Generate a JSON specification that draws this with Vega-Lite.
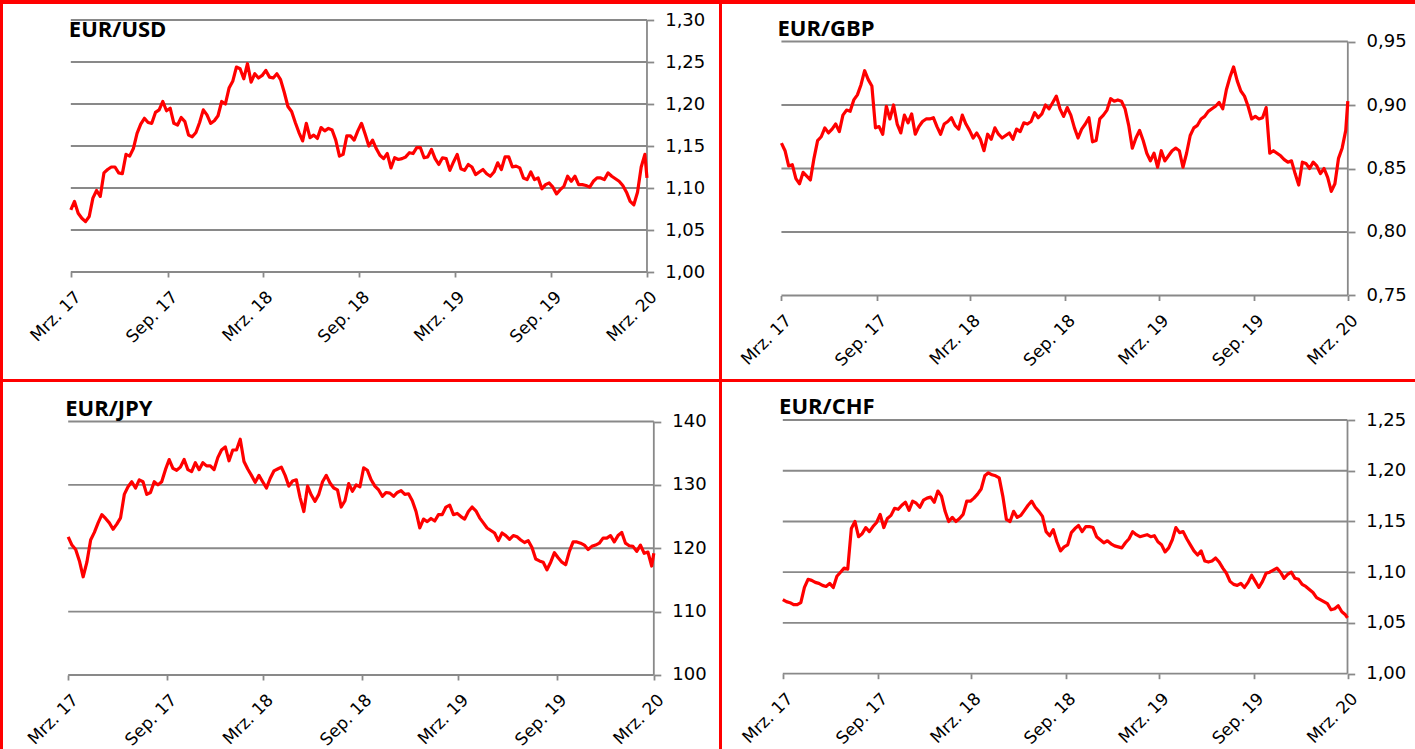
{
"$schema": "https://vega.github.io/schema/vega-lite/v6.json",
"background": "#ff0000",
"padding": {"left": 3, "top": 4, "right": 0, "bottom": 0},
"config": {"view": {"fill": "white", "stroke": null}, "axis": {"labelFont": "DejaVu Sans", "labelColor": "#000000"}},
"datasets": {"fx": [
{"d":"2017-03-13","usd":1.074,"gbp":0.870,"jpy":121.8,"chf":1.073},
{"d":"2017-03-20","usd":1.084,"gbp":0.864,"jpy":120.5,"chf":1.071},
{"d":"2017-03-27","usd":1.070,"gbp":0.852,"jpy":119.8,"chf":1.070},
{"d":"2017-04-03","usd":1.064,"gbp":0.853,"jpy":118.0,"chf":1.068},
{"d":"2017-04-10","usd":1.060,"gbp":0.842,"jpy":115.5,"chf":1.068},
{"d":"2017-04-17","usd":1.066,"gbp":0.838,"jpy":117.8,"chf":1.070},
{"d":"2017-04-24","usd":1.088,"gbp":0.847,"jpy":121.3,"chf":1.085},
{"d":"2017-05-01","usd":1.097,"gbp":0.844,"jpy":122.5,"chf":1.093},
{"d":"2017-05-08","usd":1.090,"gbp":0.841,"jpy":124.0,"chf":1.092},
{"d":"2017-05-15","usd":1.118,"gbp":0.858,"jpy":125.3,"chf":1.090},
{"d":"2017-05-22","usd":1.122,"gbp":0.872,"jpy":124.7,"chf":1.089},
{"d":"2017-05-29","usd":1.125,"gbp":0.875,"jpy":124.0,"chf":1.087},
{"d":"2017-06-05","usd":1.125,"gbp":0.882,"jpy":123.0,"chf":1.086},
{"d":"2017-06-12","usd":1.118,"gbp":0.878,"jpy":123.8,"chf":1.089},
{"d":"2017-06-19","usd":1.117,"gbp":0.881,"jpy":124.8,"chf":1.085},
{"d":"2017-06-26","usd":1.140,"gbp":0.885,"jpy":128.5,"chf":1.096},
{"d":"2017-07-03","usd":1.138,"gbp":0.879,"jpy":129.7,"chf":1.100},
{"d":"2017-07-10","usd":1.147,"gbp":0.892,"jpy":130.5,"chf":1.104},
{"d":"2017-07-17","usd":1.165,"gbp":0.896,"jpy":129.5,"chf":1.103},
{"d":"2017-07-24","usd":1.176,"gbp":0.895,"jpy":130.8,"chf":1.143},
{"d":"2017-07-31","usd":1.183,"gbp":0.904,"jpy":130.5,"chf":1.150},
{"d":"2017-08-07","usd":1.178,"gbp":0.908,"jpy":128.5,"chf":1.135},
{"d":"2017-08-14","usd":1.177,"gbp":0.916,"jpy":128.8,"chf":1.138},
{"d":"2017-08-21","usd":1.190,"gbp":0.927,"jpy":130.5,"chf":1.144},
{"d":"2017-08-28","usd":1.193,"gbp":0.920,"jpy":130.0,"chf":1.140},
{"d":"2017-09-04","usd":1.203,"gbp":0.915,"jpy":130.5,"chf":1.145},
{"d":"2017-09-11","usd":1.192,"gbp":0.882,"jpy":132.4,"chf":1.149},
{"d":"2017-09-18","usd":1.195,"gbp":0.883,"jpy":134.0,"chf":1.157},
{"d":"2017-09-25","usd":1.177,"gbp":0.877,"jpy":132.6,"chf":1.144},
{"d":"2017-10-02","usd":1.175,"gbp":0.899,"jpy":132.3,"chf":1.153},
{"d":"2017-10-09","usd":1.184,"gbp":0.889,"jpy":132.8,"chf":1.156},
{"d":"2017-10-16","usd":1.179,"gbp":0.900,"jpy":134.0,"chf":1.163},
{"d":"2017-10-23","usd":1.163,"gbp":0.885,"jpy":132.4,"chf":1.162},
{"d":"2017-10-30","usd":1.161,"gbp":0.878,"jpy":132.1,"chf":1.166},
{"d":"2017-11-06","usd":1.166,"gbp":0.892,"jpy":133.5,"chf":1.169},
{"d":"2017-11-13","usd":1.178,"gbp":0.886,"jpy":132.4,"chf":1.161},
{"d":"2017-11-20","usd":1.193,"gbp":0.893,"jpy":133.5,"chf":1.170},
{"d":"2017-11-27","usd":1.187,"gbp":0.877,"jpy":133.0,"chf":1.168},
{"d":"2017-12-04","usd":1.177,"gbp":0.883,"jpy":133.0,"chf":1.164},
{"d":"2017-12-11","usd":1.180,"gbp":0.887,"jpy":132.4,"chf":1.171},
{"d":"2017-12-18","usd":1.186,"gbp":0.889,"jpy":134.3,"chf":1.173},
{"d":"2017-12-25","usd":1.203,"gbp":0.889,"jpy":135.5,"chf":1.174},
{"d":"2018-01-01","usd":1.200,"gbp":0.890,"jpy":136.0,"chf":1.169},
{"d":"2018-01-08","usd":1.219,"gbp":0.883,"jpy":133.8,"chf":1.180},
{"d":"2018-01-15","usd":1.227,"gbp":0.877,"jpy":135.5,"chf":1.175},
{"d":"2018-01-22","usd":1.244,"gbp":0.885,"jpy":135.5,"chf":1.160},
{"d":"2018-01-29","usd":1.242,"gbp":0.887,"jpy":137.2,"chf":1.150},
{"d":"2018-02-05","usd":1.230,"gbp":0.890,"jpy":133.7,"chf":1.154},
{"d":"2018-02-12","usd":1.248,"gbp":0.884,"jpy":132.5,"chf":1.150},
{"d":"2018-02-19","usd":1.226,"gbp":0.881,"jpy":131.5,"chf":1.153},
{"d":"2018-02-26","usd":1.236,"gbp":0.892,"jpy":130.4,"chf":1.157},
{"d":"2018-03-05","usd":1.231,"gbp":0.885,"jpy":131.5,"chf":1.170},
{"d":"2018-03-12","usd":1.234,"gbp":0.880,"jpy":130.5,"chf":1.170},
{"d":"2018-03-19","usd":1.240,"gbp":0.874,"jpy":129.5,"chf":1.173},
{"d":"2018-03-26","usd":1.232,"gbp":0.878,"jpy":131.0,"chf":1.177},
{"d":"2018-04-02","usd":1.231,"gbp":0.873,"jpy":132.2,"chf":1.182},
{"d":"2018-04-09","usd":1.236,"gbp":0.864,"jpy":132.5,"chf":1.195},
{"d":"2018-04-16","usd":1.229,"gbp":0.877,"jpy":132.8,"chf":1.198},
{"d":"2018-04-23","usd":1.214,"gbp":0.873,"jpy":131.5,"chf":1.196},
{"d":"2018-04-30","usd":1.197,"gbp":0.882,"jpy":129.8,"chf":1.195},
{"d":"2018-05-07","usd":1.191,"gbp":0.877,"jpy":130.6,"chf":1.193},
{"d":"2018-05-14","usd":1.178,"gbp":0.874,"jpy":130.8,"chf":1.175},
{"d":"2018-05-21","usd":1.166,"gbp":0.876,"jpy":128.0,"chf":1.152},
{"d":"2018-05-28","usd":1.156,"gbp":0.878,"jpy":125.8,"chf":1.150},
{"d":"2018-06-04","usd":1.177,"gbp":0.873,"jpy":129.8,"chf":1.160},
{"d":"2018-06-11","usd":1.160,"gbp":0.881,"jpy":128.4,"chf":1.154},
{"d":"2018-06-18","usd":1.163,"gbp":0.879,"jpy":127.4,"chf":1.156},
{"d":"2018-06-25","usd":1.159,"gbp":0.886,"jpy":128.5,"chf":1.161},
{"d":"2018-07-02","usd":1.172,"gbp":0.885,"jpy":130.5,"chf":1.166},
{"d":"2018-07-09","usd":1.168,"gbp":0.887,"jpy":131.5,"chf":1.170},
{"d":"2018-07-16","usd":1.171,"gbp":0.894,"jpy":130.3,"chf":1.164},
{"d":"2018-07-23","usd":1.169,"gbp":0.890,"jpy":129.5,"chf":1.160},
{"d":"2018-07-30","usd":1.157,"gbp":0.893,"jpy":129.2,"chf":1.155},
{"d":"2018-08-06","usd":1.138,"gbp":0.900,"jpy":126.5,"chf":1.140},
{"d":"2018-08-13","usd":1.140,"gbp":0.897,"jpy":127.5,"chf":1.136},
{"d":"2018-08-20","usd":1.162,"gbp":0.902,"jpy":130.2,"chf":1.142},
{"d":"2018-08-27","usd":1.162,"gbp":0.907,"jpy":129.0,"chf":1.130},
{"d":"2018-09-03","usd":1.157,"gbp":0.897,"jpy":130.0,"chf":1.121},
{"d":"2018-09-10","usd":1.168,"gbp":0.891,"jpy":129.7,"chf":1.125},
{"d":"2018-09-17","usd":1.177,"gbp":0.898,"jpy":132.7,"chf":1.127},
{"d":"2018-09-24","usd":1.164,"gbp":0.892,"jpy":132.3,"chf":1.139},
{"d":"2018-10-01","usd":1.150,"gbp":0.882,"jpy":130.8,"chf":1.143},
{"d":"2018-10-08","usd":1.157,"gbp":0.874,"jpy":129.8,"chf":1.146},
{"d":"2018-10-15","usd":1.147,"gbp":0.881,"jpy":129.2,"chf":1.140},
{"d":"2018-10-22","usd":1.139,"gbp":0.885,"jpy":128.2,"chf":1.145},
{"d":"2018-10-29","usd":1.135,"gbp":0.890,"jpy":128.8,"chf":1.145},
{"d":"2018-11-05","usd":1.141,"gbp":0.871,"jpy":128.7,"chf":1.144},
{"d":"2018-11-12","usd":1.124,"gbp":0.872,"jpy":128.2,"chf":1.135},
{"d":"2018-11-19","usd":1.136,"gbp":0.889,"jpy":128.8,"chf":1.132},
{"d":"2018-11-26","usd":1.134,"gbp":0.892,"jpy":129.1,"chf":1.129},
{"d":"2018-12-03","usd":1.135,"gbp":0.896,"jpy":128.5,"chf":1.131},
{"d":"2018-12-10","usd":1.137,"gbp":0.905,"jpy":128.6,"chf":1.128},
{"d":"2018-12-17","usd":1.142,"gbp":0.903,"jpy":127.5,"chf":1.126},
{"d":"2018-12-24","usd":1.141,"gbp":0.904,"jpy":125.8,"chf":1.125},
{"d":"2018-12-31","usd":1.148,"gbp":0.903,"jpy":123.2,"chf":1.124},
{"d":"2019-01-07","usd":1.148,"gbp":0.897,"jpy":124.6,"chf":1.129},
{"d":"2019-01-14","usd":1.136,"gbp":0.884,"jpy":124.2,"chf":1.133},
{"d":"2019-01-21","usd":1.137,"gbp":0.866,"jpy":124.7,"chf":1.140},
{"d":"2019-01-28","usd":1.146,"gbp":0.874,"jpy":124.3,"chf":1.137},
{"d":"2019-02-04","usd":1.135,"gbp":0.880,"jpy":125.3,"chf":1.135},
{"d":"2019-02-11","usd":1.128,"gbp":0.872,"jpy":125.3,"chf":1.136},
{"d":"2019-02-18","usd":1.136,"gbp":0.862,"jpy":126.5,"chf":1.137},
{"d":"2019-02-25","usd":1.135,"gbp":0.856,"jpy":126.8,"chf":1.135},
{"d":"2019-03-04","usd":1.121,"gbp":0.862,"jpy":125.3,"chf":1.136},
{"d":"2019-03-11","usd":1.131,"gbp":0.851,"jpy":125.5,"chf":1.130},
{"d":"2019-03-18","usd":1.140,"gbp":0.864,"jpy":125.0,"chf":1.127},
{"d":"2019-03-25","usd":1.123,"gbp":0.856,"jpy":124.6,"chf":1.120},
{"d":"2019-04-01","usd":1.121,"gbp":0.860,"jpy":125.8,"chf":1.124},
{"d":"2019-04-08","usd":1.128,"gbp":0.864,"jpy":126.5,"chf":1.132},
{"d":"2019-04-15","usd":1.125,"gbp":0.866,"jpy":125.9,"chf":1.144},
{"d":"2019-04-22","usd":1.116,"gbp":0.864,"jpy":124.8,"chf":1.139},
{"d":"2019-04-29","usd":1.119,"gbp":0.851,"jpy":124.0,"chf":1.140},
{"d":"2019-05-06","usd":1.122,"gbp":0.862,"jpy":123.2,"chf":1.133},
{"d":"2019-05-13","usd":1.117,"gbp":0.876,"jpy":122.8,"chf":1.127},
{"d":"2019-05-20","usd":1.114,"gbp":0.882,"jpy":122.4,"chf":1.121},
{"d":"2019-05-27","usd":1.119,"gbp":0.884,"jpy":121.2,"chf":1.117},
{"d":"2019-06-03","usd":1.130,"gbp":0.889,"jpy":122.4,"chf":1.121},
{"d":"2019-06-10","usd":1.122,"gbp":0.891,"jpy":122.0,"chf":1.111},
{"d":"2019-06-17","usd":1.137,"gbp":0.895,"jpy":121.4,"chf":1.110},
{"d":"2019-06-24","usd":1.137,"gbp":0.897,"jpy":122.0,"chf":1.111},
{"d":"2019-07-01","usd":1.125,"gbp":0.899,"jpy":121.8,"chf":1.114},
{"d":"2019-07-08","usd":1.126,"gbp":0.902,"jpy":121.3,"chf":1.110},
{"d":"2019-07-15","usd":1.124,"gbp":0.897,"jpy":120.9,"chf":1.104},
{"d":"2019-07-22","usd":1.112,"gbp":0.912,"jpy":121.2,"chf":1.099},
{"d":"2019-07-29","usd":1.110,"gbp":0.922,"jpy":120.1,"chf":1.091},
{"d":"2019-08-05","usd":1.119,"gbp":0.930,"jpy":118.3,"chf":1.088},
{"d":"2019-08-12","usd":1.110,"gbp":0.919,"jpy":118.0,"chf":1.087},
{"d":"2019-08-19","usd":1.112,"gbp":0.911,"jpy":117.8,"chf":1.089},
{"d":"2019-08-26","usd":1.099,"gbp":0.907,"jpy":116.6,"chf":1.085},
{"d":"2019-09-02","usd":1.104,"gbp":0.899,"jpy":117.8,"chf":1.090},
{"d":"2019-09-09","usd":1.106,"gbp":0.889,"jpy":119.3,"chf":1.097},
{"d":"2019-09-16","usd":1.101,"gbp":0.891,"jpy":118.5,"chf":1.091},
{"d":"2019-09-23","usd":1.093,"gbp":0.889,"jpy":117.8,"chf":1.085},
{"d":"2019-09-30","usd":1.098,"gbp":0.890,"jpy":117.4,"chf":1.091},
{"d":"2019-10-07","usd":1.102,"gbp":0.898,"jpy":119.5,"chf":1.099},
{"d":"2019-10-14","usd":1.114,"gbp":0.862,"jpy":121.0,"chf":1.100},
{"d":"2019-10-21","usd":1.108,"gbp":0.864,"jpy":121.0,"chf":1.102},
{"d":"2019-10-28","usd":1.114,"gbp":0.862,"jpy":120.8,"chf":1.104},
{"d":"2019-11-04","usd":1.104,"gbp":0.860,"jpy":120.5,"chf":1.100},
{"d":"2019-11-11","usd":1.104,"gbp":0.857,"jpy":119.8,"chf":1.094},
{"d":"2019-11-18","usd":1.103,"gbp":0.855,"jpy":120.3,"chf":1.098},
{"d":"2019-11-25","usd":1.101,"gbp":0.856,"jpy":120.5,"chf":1.100},
{"d":"2019-12-02","usd":1.108,"gbp":0.846,"jpy":120.8,"chf":1.094},
{"d":"2019-12-09","usd":1.112,"gbp":0.837,"jpy":121.6,"chf":1.093},
{"d":"2019-12-16","usd":1.112,"gbp":0.855,"jpy":121.6,"chf":1.088},
{"d":"2019-12-23","usd":1.110,"gbp":0.854,"jpy":122.0,"chf":1.086},
{"d":"2019-12-30","usd":1.118,"gbp":0.850,"jpy":121.0,"chf":1.083},
{"d":"2020-01-06","usd":1.114,"gbp":0.855,"jpy":122.0,"chf":1.080},
{"d":"2020-01-13","usd":1.111,"gbp":0.852,"jpy":122.5,"chf":1.075},
{"d":"2020-01-20","usd":1.108,"gbp":0.846,"jpy":120.8,"chf":1.073},
{"d":"2020-01-27","usd":1.103,"gbp":0.850,"jpy":120.4,"chf":1.071},
{"d":"2020-02-03","usd":1.095,"gbp":0.843,"jpy":120.3,"chf":1.069},
{"d":"2020-02-10","usd":1.084,"gbp":0.832,"jpy":119.5,"chf":1.063},
{"d":"2020-02-17","usd":1.080,"gbp":0.838,"jpy":120.5,"chf":1.064},
{"d":"2020-02-24","usd":1.095,"gbp":0.858,"jpy":119.2,"chf":1.067},
{"d":"2020-03-02","usd":1.125,"gbp":0.866,"jpy":119.4,"chf":1.061},
{"d":"2020-03-09","usd":1.140,"gbp":0.880,"jpy":117.2,"chf":1.058},
{"d":"2020-03-13","usd":1.112,"gbp":0.903,"jpy":119.2,"chf":1.055}
]},
"vconcat": [
{"hconcat": [
{"width": 716, "height": 375, "data": {"name": "fx"},
 "layer": [
  {"data": {"values": [{"g":1.0},{"g":1.05},{"g":1.1},{"g":1.15},{"g":1.2},{"g":1.25},{"g":1.3}]},
   "mark": {"type":"rule","color":"#898989","strokeWidth":1.8},
   "encoding": {
    "y": {"field":"g","type":"quantitative","scale":{"domain":[0.87262,1.31905],"nice":false,"zero":false}},
    "x": {"datum":{"year":2017,"month":3,"date":13,"utc":true},"type":"temporal","scale":{"type":"utc","domain":[{"year":2016,"month":11,"date":4,"utc":true},{"year":2020,"month":7,"date":28,"utc":true}]}},
    "x2": {"datum":{"year":2020,"month":3,"date":13,"utc":true}}}},
  {"data": {"values": [{}]},
   "mark": {"type":"rule","color":"#898989","strokeWidth":1.8},
   "encoding": {
    "x": {"datum":{"year":2020,"month":3,"date":13,"utc":true},"type":"temporal","scale":{"type":"utc","domain":[{"year":2016,"month":11,"date":4,"utc":true},{"year":2020,"month":7,"date":28,"utc":true}]}},
    "y": {"datum":1.0,"type":"quantitative","scale":{"domain":[0.87262,1.31905],"nice":false,"zero":false}},
    "y2": {"datum":1.3}}},
  {"mark": {"type":"line","color":"#ff0000","strokeWidth":3.2,"strokeJoin":"round"},
   "encoding": {
    "x": {"field":"d","type":"temporal","scale":{"type":"utc","domain":[{"year":2016,"month":11,"date":4,"utc":true},{"year":2020,"month":7,"date":28,"utc":true}]},
     "axis":{"orient":"bottom","values":[{"year":2017,"month":3,"date":13,"utc":true},{"year":2017,"month":9,"date":13,"utc":true},{"year":2018,"month":3,"date":13,"utc":true},{"year":2018,"month":9,"date":13,"utc":true},{"year":2019,"month":3,"date":13,"utc":true},{"year":2019,"month":9,"date":13,"utc":true},{"year":2020,"month":3,"date":13,"utc":true}],
      "labelExpr":"(utcmonth(datum.value) == 2 ? 'Mrz. ' : 'Sep. ') + utcFormat(datum.value, '%y')",
      "labelAngle":-45,"labelAlign":"right","labelBaseline":"middle","labelFontSize":17,"labelPadding":17,"labelOffset":7,"labelOverlap":false,"labelBound":false,"labelFlush":false,
      "ticks":true,"tickSize":5,"tickColor":"#898989","tickWidth":1.8,"domain":false,"grid":false,"title":null,"offset":-107}},
    "y": {"field":"usd","type":"quantitative","scale":{"domain":[0.87262,1.31905],"nice":false,"zero":false},
     "axis":{"orient":"right","values":[1.0,1.05,1.1,1.15,1.2,1.25,1.3],"labelExpr":"replace(format(datum.value, '.2f'), '.', ',')",
      "labelFontSize":18,"labelPadding":11,"labelBaseline":"middle","labelOverlap":false,"labelBound":false,"labelFlush":false,
      "ticks":true,"tickSize":7,"tickColor":"#898989","tickWidth":1.8,"domain":false,"grid":false,"title":null,"offset":-72.3}}}},
  {"data": {"values": [{"t":"EUR/USD"}]},
   "mark": {"type":"text","font":"Open Sans","fontWeight":"bold","fontSize":22,"align":"left","baseline":"alphabetic","dx":-2,"dy":17.3,"color":"#000000"},
   "encoding": {
    "text": {"field":"t"},
    "x": {"datum":{"year":2017,"month":3,"date":13,"utc":true},"type":"temporal","scale":{"type":"utc","domain":[{"year":2016,"month":11,"date":4,"utc":true},{"year":2020,"month":7,"date":28,"utc":true}]}},
    "y": {"datum":1.3,"type":"quantitative","scale":{"domain":[0.87262,1.31905],"nice":false,"zero":false}}}}
 ]},
{"width": 693, "height": 375, "data": {"name": "fx"},
 "layer": [
  {"data": {"values": [{"g":0.75},{"g":0.8},{"g":0.85},{"g":0.9},{"g":0.95}]},
   "mark": {"type":"rule","color":"#898989","strokeWidth":1.8},
   "encoding": {
    "y": {"field":"g","type":"quantitative","scale":{"domain":[0.68425,0.97953],"nice":false,"zero":false}},
    "x": {"datum":{"year":2017,"month":3,"date":13,"utc":true},"type":"temporal","scale":{"type":"utc","domain":[{"year":2016,"month":11,"date":18,"utc":true},{"year":2020,"month":7,"date":21,"utc":true}]}},
    "x2": {"datum":{"year":2020,"month":3,"date":13,"utc":true}}}},
  {"data": {"values": [{}]},
   "mark": {"type":"rule","color":"#898989","strokeWidth":1.8},
   "encoding": {
    "x": {"datum":{"year":2020,"month":3,"date":13,"utc":true},"type":"temporal","scale":{"type":"utc","domain":[{"year":2016,"month":11,"date":18,"utc":true},{"year":2020,"month":7,"date":21,"utc":true}]}},
    "y": {"datum":0.75,"type":"quantitative","scale":{"domain":[0.68425,0.97953],"nice":false,"zero":false}},
    "y2": {"datum":0.95}}},
  {"mark": {"type":"line","color":"#ff0000","strokeWidth":3.2,"strokeJoin":"round"},
   "encoding": {
    "x": {"field":"d","type":"temporal","scale":{"type":"utc","domain":[{"year":2016,"month":11,"date":18,"utc":true},{"year":2020,"month":7,"date":21,"utc":true}]},
     "axis":{"orient":"bottom","values":[{"year":2017,"month":3,"date":13,"utc":true},{"year":2017,"month":9,"date":13,"utc":true},{"year":2018,"month":3,"date":13,"utc":true},{"year":2018,"month":9,"date":13,"utc":true},{"year":2019,"month":3,"date":13,"utc":true},{"year":2019,"month":9,"date":13,"utc":true},{"year":2020,"month":3,"date":13,"utc":true}],
      "labelExpr":"(utcmonth(datum.value) == 2 ? 'Mrz. ' : 'Sep. ') + utcFormat(datum.value, '%y')",
      "labelAngle":-45,"labelAlign":"right","labelBaseline":"middle","labelFontSize":17,"labelPadding":17,"labelOffset":7,"labelOverlap":false,"labelBound":false,"labelFlush":false,
      "ticks":true,"tickSize":5,"tickColor":"#898989","tickWidth":1.8,"domain":false,"grid":false,"title":null,"offset":-83.5}},
    "y": {"field":"gbp","type":"quantitative","scale":{"domain":[0.68425,0.97953],"nice":false,"zero":false},
     "axis":{"orient":"right","values":[0.75,0.8,0.85,0.9,0.95],"labelExpr":"replace(format(datum.value, '.2f'), '.', ',')",
      "labelFontSize":18,"labelPadding":11,"labelBaseline":"middle","labelOverlap":false,"labelBound":false,"labelFlush":false,
      "ticks":true,"tickSize":7,"tickColor":"#898989","tickWidth":1.8,"domain":false,"grid":false,"title":null,"offset":-67}}}},
  {"data": {"values": [{"t":"EUR/GBP"}]},
   "mark": {"type":"text","font":"Open Sans","fontWeight":"bold","fontSize":22,"align":"left","baseline":"alphabetic","dx":-4,"dy":-5.5,"color":"#000000"},
   "encoding": {
    "text": {"field":"t"},
    "x": {"datum":{"year":2017,"month":3,"date":13,"utc":true},"type":"temporal","scale":{"type":"utc","domain":[{"year":2016,"month":11,"date":18,"utc":true},{"year":2020,"month":7,"date":21,"utc":true}]}},
    "y": {"datum":0.95,"type":"quantitative","scale":{"domain":[0.68425,0.97953],"nice":false,"zero":false}}}}
 ]}
], "spacing": 3},
{"hconcat": [
{"width": 716, "height": 367, "data": {"name": "fx"},
 "layer": [
  {"data": {"values": [{"g":100},{"g":110},{"g":120},{"g":130},{"g":140}]},
   "mark": {"type":"rule","color":"#898989","strokeWidth":1.8},
   "encoding": {
    "y": {"field":"g","type":"quantitative","scale":{"domain":[88.323,146.233],"nice":false,"zero":false}},
    "x": {"datum":{"year":2017,"month":3,"date":13,"utc":true},"type":"temporal","scale":{"type":"utc","domain":[{"year":2016,"month":11,"date":11,"utc":true},{"year":2020,"month":7,"date":13,"utc":true}]}},
    "x2": {"datum":{"year":2020,"month":3,"date":13,"utc":true}}}},
  {"data": {"values": [{}]},
   "mark": {"type":"rule","color":"#898989","strokeWidth":1.8},
   "encoding": {
    "x": {"datum":{"year":2020,"month":3,"date":13,"utc":true},"type":"temporal","scale":{"type":"utc","domain":[{"year":2016,"month":11,"date":11,"utc":true},{"year":2020,"month":7,"date":13,"utc":true}]}},
    "y": {"datum":100,"type":"quantitative","scale":{"domain":[88.323,146.233],"nice":false,"zero":false}},
    "y2": {"datum":140}}},
  {"mark": {"type":"line","color":"#ff0000","strokeWidth":3.2,"strokeJoin":"round"},
   "encoding": {
    "x": {"field":"d","type":"temporal","scale":{"type":"utc","domain":[{"year":2016,"month":11,"date":11,"utc":true},{"year":2020,"month":7,"date":13,"utc":true}]},
     "axis":{"orient":"bottom","values":[{"year":2017,"month":3,"date":13,"utc":true},{"year":2017,"month":9,"date":13,"utc":true},{"year":2018,"month":3,"date":13,"utc":true},{"year":2018,"month":9,"date":13,"utc":true},{"year":2019,"month":3,"date":13,"utc":true},{"year":2019,"month":9,"date":13,"utc":true},{"year":2020,"month":3,"date":13,"utc":true}],
      "labelExpr":"(utcmonth(datum.value) == 2 ? 'Mrz. ' : 'Sep. ') + utcFormat(datum.value, '%y')",
      "labelAngle":-45,"labelAlign":"right","labelBaseline":"middle","labelFontSize":17,"labelPadding":17,"labelOffset":7,"labelOverlap":false,"labelBound":false,"labelFlush":false,
      "ticks":true,"tickSize":5,"tickColor":"#898989","tickWidth":1.8,"domain":false,"grid":false,"title":null,"offset":-74}},
    "y": {"field":"jpy","type":"quantitative","scale":{"domain":[88.323,146.233],"nice":false,"zero":false},
     "axis":{"orient":"right","values":[100,110,120,130,140],"labelExpr":"format(datum.value, '.0f')",
      "labelFontSize":18,"labelPadding":11,"labelBaseline":"middle","labelOverlap":false,"labelBound":false,"labelFlush":false,
      "ticks":true,"tickSize":7,"tickColor":"#898989","tickWidth":1.8,"domain":false,"grid":false,"title":null,"offset":-65.2}}}},
  {"data": {"values": [{"t":"EUR/JPY"}]},
   "mark": {"type":"text","font":"Open Sans","fontWeight":"bold","fontSize":22,"align":"left","baseline":"alphabetic","dx":-3,"dy":-5.7,"color":"#000000"},
   "encoding": {
    "text": {"field":"t"},
    "x": {"datum":{"year":2017,"month":3,"date":13,"utc":true},"type":"temporal","scale":{"type":"utc","domain":[{"year":2016,"month":11,"date":11,"utc":true},{"year":2020,"month":7,"date":13,"utc":true}]}},
    "y": {"datum":140,"type":"quantitative","scale":{"domain":[88.323,146.233],"nice":false,"zero":false}}}}
 ]},
{"width": 693, "height": 367, "data": {"name": "fx"},
 "layer": [
  {"data": {"values": [{"g":1.0},{"g":1.05},{"g":1.1},{"g":1.15},{"g":1.2},{"g":1.25}]},
   "mark": {"type":"rule","color":"#898989","strokeWidth":1.8},
   "encoding": {
    "y": {"field":"g","type":"quantitative","scale":{"domain":[0.9258,1.28745],"nice":false,"zero":false}},
    "x": {"datum":{"year":2017,"month":3,"date":13,"utc":true},"type":"temporal","scale":{"type":"utc","domain":[{"year":2016,"month":11,"date":15,"utc":true},{"year":2020,"month":7,"date":22,"utc":true}]}},
    "x2": {"datum":{"year":2020,"month":3,"date":13,"utc":true}}}},
  {"data": {"values": [{}]},
   "mark": {"type":"rule","color":"#898989","strokeWidth":1.8},
   "encoding": {
    "x": {"datum":{"year":2020,"month":3,"date":13,"utc":true},"type":"temporal","scale":{"type":"utc","domain":[{"year":2016,"month":11,"date":15,"utc":true},{"year":2020,"month":7,"date":22,"utc":true}]}},
    "y": {"datum":1.0,"type":"quantitative","scale":{"domain":[0.9258,1.28745],"nice":false,"zero":false}},
    "y2": {"datum":1.25}}},
  {"mark": {"type":"line","color":"#ff0000","strokeWidth":3.2,"strokeJoin":"round"},
   "encoding": {
    "x": {"field":"d","type":"temporal","scale":{"type":"utc","domain":[{"year":2016,"month":11,"date":15,"utc":true},{"year":2020,"month":7,"date":22,"utc":true}]},
     "axis":{"orient":"bottom","values":[{"year":2017,"month":3,"date":13,"utc":true},{"year":2017,"month":9,"date":13,"utc":true},{"year":2018,"month":3,"date":13,"utc":true},{"year":2018,"month":9,"date":13,"utc":true},{"year":2019,"month":3,"date":13,"utc":true},{"year":2019,"month":9,"date":13,"utc":true},{"year":2020,"month":3,"date":13,"utc":true}],
      "labelExpr":"(utcmonth(datum.value) == 2 ? 'Mrz. ' : 'Sep. ') + utcFormat(datum.value, '%y')",
      "labelAngle":-45,"labelAlign":"right","labelBaseline":"middle","labelFontSize":17,"labelPadding":17,"labelOffset":7,"labelOverlap":false,"labelBound":false,"labelFlush":false,
      "ticks":true,"tickSize":5,"tickColor":"#898989","tickWidth":1.8,"domain":false,"grid":false,"title":null,"offset":-75.3}},
    "y": {"field":"chf","type":"quantitative","scale":{"domain":[0.9258,1.28745],"nice":false,"zero":false},
     "axis":{"orient":"right","values":[1.0,1.05,1.1,1.15,1.2,1.25],"labelExpr":"replace(format(datum.value, '.2f'), '.', ',')",
      "labelFontSize":18,"labelPadding":11,"labelBaseline":"middle","labelOverlap":false,"labelBound":false,"labelFlush":false,
      "ticks":true,"tickSize":7,"tickColor":"#898989","tickWidth":1.8,"domain":false,"grid":false,"title":null,"offset":-67.3}}}},
  {"data": {"values": [{"t":"EUR/CHF"}]},
   "mark": {"type":"text","font":"Open Sans","fontWeight":"bold","fontSize":22,"align":"left","baseline":"alphabetic","dx":-3.7,"dy":-5.7,"color":"#000000"},
   "encoding": {
    "text": {"field":"t"},
    "x": {"datum":{"year":2017,"month":3,"date":13,"utc":true},"type":"temporal","scale":{"type":"utc","domain":[{"year":2016,"month":11,"date":15,"utc":true},{"year":2020,"month":7,"date":22,"utc":true}]}},
    "y": {"datum":1.25,"type":"quantitative","scale":{"domain":[0.9258,1.28745],"nice":false,"zero":false}}}}
 ]}
], "spacing": 3}
], "spacing": 3
}
